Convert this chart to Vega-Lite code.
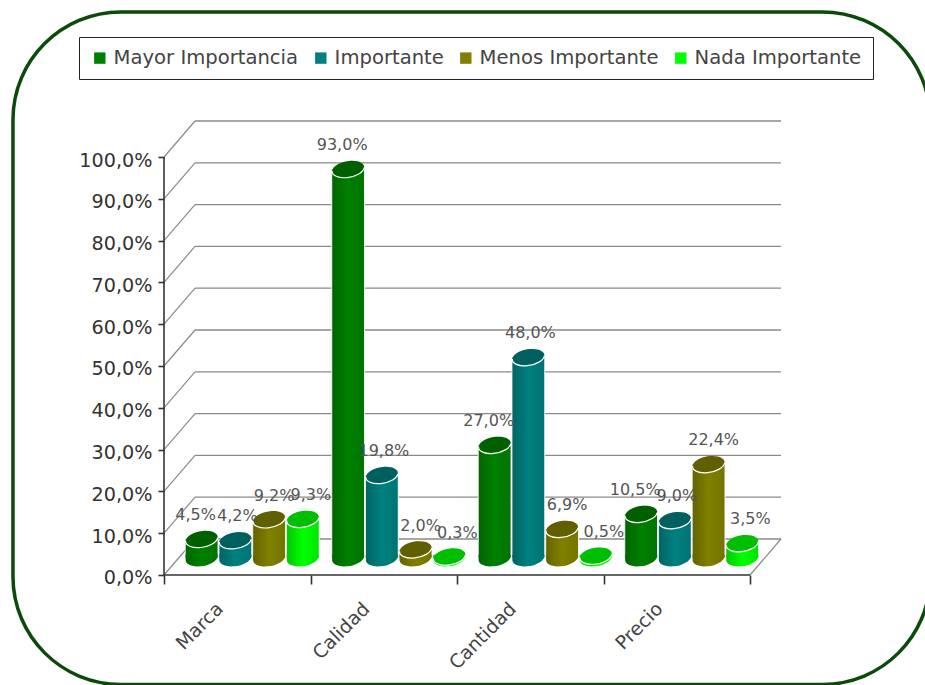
{
  "$schema": "https://vega.github.io/schema/vega-lite/v6.json",
  "width": 925,
  "height": 685,
  "padding": 0,
  "autosize": {"type": "none"},
  "background": "white",
  "config": {"view": {"stroke": null}, "font": "DejaVu Sans"},
  "datasets": {
    "importance": [
      {"criterio": "Marca", "nivel": "Mayor Importancia", "valor": 4.5},
      {"criterio": "Marca", "nivel": "Importante", "valor": 4.2},
      {"criterio": "Marca", "nivel": "Menos Importante", "valor": 9.2},
      {"criterio": "Marca", "nivel": "Nada Importante", "valor": 9.3},
      {"criterio": "Calidad", "nivel": "Mayor Importancia", "valor": 93.0},
      {"criterio": "Calidad", "nivel": "Importante", "valor": 19.8},
      {"criterio": "Calidad", "nivel": "Menos Importante", "valor": 2.0},
      {"criterio": "Calidad", "nivel": "Nada Importante", "valor": 0.3},
      {"criterio": "Cantidad", "nivel": "Mayor Importancia", "valor": 27.0},
      {"criterio": "Cantidad", "nivel": "Importante", "valor": 48.0},
      {"criterio": "Cantidad", "nivel": "Menos Importante", "valor": 6.9},
      {"criterio": "Cantidad", "nivel": "Nada Importante", "valor": 0.5},
      {"criterio": "Precio", "nivel": "Mayor Importancia", "valor": 10.5},
      {"criterio": "Precio", "nivel": "Importante", "valor": 9.0},
      {"criterio": "Precio", "nivel": "Menos Importante", "valor": 22.4},
      {"criterio": "Precio", "nivel": "Nada Importante", "valor": 3.5}
    ],
    "levels": [
      {"level": 0}, {"level": 10}, {"level": 20}, {"level": 30}, {"level": 40}, {"level": 50},
      {"level": 60}, {"level": 70}, {"level": 80}, {"level": 90}, {"level": 100}
    ]
  },
  "resolve": {"scale": {"x": "independent"}},
  "layer": [
    {
      "layer": [
        {
          "description": "Rounded outer frame, running past the right edge",
          "data": {"values": [{"frame": 1}]},
          "mark": {"type": "rect", "filled": false, "stroke": "#0c4a0c", "strokeWidth": 3.5, "cornerRadius": 108},
          "encoding": {
            "x": {"datum": -1.031, "type": "quantitative", "axis": null, "scale": {"domain": [-1.1195, 5.1945], "nice": false, "zero": false}},
            "x2": {"datum": 5.23},
            "y": {
              "datum": 134.7, "type": "quantitative", "title": null,
              "scale": {"domain": [-26.316, 137.56], "nice": false, "zero": false},
              "axis": {
                "orient": "left", "offset": -164, "values": [0, 10, 20, 30, 40, 50, 60, 70, 80, 90, 100],
                "grid": false, "domain": false, "tickSize": 6, "tickColor": "#333333", "tickWidth": 1.6,
                "labelFontSize": 19.2, "labelColor": "#333333", "labelPadding": 6, "labelOffset": 3, "title": null,
                "labelExpr": "replace(format(datum.value, '.1f'), '.', ',') + '%'"
              }
            },
            "y2": {"datum": -26.2}
          }
        },
        {
          "description": "Back wall grid",
          "data": {"name": "levels"},
          "mark": {"type": "rule", "stroke": "#8a8a8a", "strokeWidth": 1.3, "xOffset": 31, "x2Offset": 31, "yOffset": -36},
          "encoding": {
            "x": {"datum": 0, "type": "quantitative"},
            "x2": {"datum": 4},
            "y": {"field": "level", "type": "quantitative"}
          }
        },
        {
          "description": "Side wall grid",
          "data": {"name": "levels"},
          "mark": {"type": "rule", "stroke": "#8a8a8a", "strokeWidth": 1.2, "x2Offset": 31, "y2Offset": -36},
          "encoding": {
            "x": {"datum": 0, "type": "quantitative"},
            "x2": {"datum": 0},
            "y": {"field": "level", "type": "quantitative"},
            "y2": {"field": "level"}
          }
        },
        {
          "description": "Right floor edge",
          "data": {"values": [{"level": 0}]},
          "mark": {"type": "rule", "stroke": "#8a8a8a", "strokeWidth": 1.2, "x2Offset": 31, "y2Offset": -36},
          "encoding": {
            "x": {"datum": 4, "type": "quantitative"},
            "x2": {"datum": 4},
            "y": {"field": "level", "type": "quantitative"},
            "y2": {"field": "level"}
          }
        },
        {
          "description": "Front baseline",
          "data": {"values": [{"level": 0}]},
          "mark": {"type": "rule", "stroke": "#333333", "strokeWidth": 1.6},
          "encoding": {
            "x": {"datum": 0, "type": "quantitative"},
            "x2": {"datum": 4},
            "y": {"field": "level", "type": "quantitative"}
          }
        },
        {
          "description": "Value axis line",
          "data": {"values": [{"level": 0}]},
          "mark": {"type": "rule", "stroke": "#333333", "strokeWidth": 1.6},
          "encoding": {
            "x": {"datum": 0, "type": "quantitative"},
            "y": {"datum": 0, "type": "quantitative"},
            "y2": {"datum": 100}
          }
        }
      ]
    },
    {
      "data": {"name": "importance"},
      "encoding": {
        "x": {
          "field": "criterio", "type": "nominal", "sort": ["Marca", "Calidad", "Cantidad", "Precio"],
          "title": null,
          "scale": {"range": [179, 765], "paddingInner": 0, "paddingOuter": 0},
          "axis": {
            "orient": "bottom", "offset": -95, "translate": -14.5, "tickBand": "extent", "labelAngle": -45, "domain": false,
            "tickSize": 9, "tickColor": "#333333", "tickWidth": 1.6, "labelFontSize": 19, "labelColor": "#444444",
            "labelPadding": 15, "labelOffset": -24, "labelFont": "DejaVu Sans"
          }
        },
        "xOffset": {
          "field": "nivel", "type": "nominal",
          "sort": ["Mayor Importancia", "Importante", "Menos Importante", "Nada Importante"],
          "scale": {"paddingInner": 0.03, "paddingOuter": 0.187}
        },
        "y": {"field": "valor", "type": "quantitative", "title": null},
        "color": {
          "field": "nivel", "type": "nominal", "title": null,
          "sort": ["Mayor Importancia", "Importante", "Menos Importante", "Nada Importante"],
          "scale": {
            "domain": ["Mayor Importancia", "Importante", "Menos Importante", "Nada Importante"],
            "range": ["#008000", "#008080", "#808000", "#00ff00"]
          },
          "legend": {
            "orient": "none", "legendX": 79, "legendY": 37, "direction": "horizontal", "columns": 4,
            "symbolType": "square", "symbolSize": 130, "symbolStrokeWidth": 0, "symbolOpacity": 1,
            "labelFontSize": 19.6, "labelColor": "#444444", "labelFont": "DejaVu Sans", "labelOffset": 4,
            "columnPadding": 12, "padding": 11, "strokeColor": "#222222", "fillColor": "white",
            "labelLimit": 260
          }
        }
      },
      "layer": [
        {
          "description": "Cylinder body",
          "mark": {"type": "bar", "yOffset": -17, "y2Offset": -17, "stroke": "white", "strokeWidth": 1},
          "encoding": {"y2": {"datum": 0}}
        },
        {
          "description": "Cylinder shading",
          "mark": {"type": "bar", "yOffset": -17, "y2Offset": -17},
          "encoding": {"y2": {"datum": 0}, "color": {"value": null}, "fill": {
            "value": {
              "x1": 0, "x2": 1, "y1": 0, "y2": 0, "gradient": "linear",
              "stops": [
                {"offset": 0, "color": "rgba(0,0,0,0.22)"},
                {"offset": 0.5, "color": "rgba(0,0,0,0)"},
                {"offset": 1, "color": "rgba(0,0,0,0.1)"}
              ]
            }
          }}
        },
        {
          "description": "Rounded lower edge of the cylinder",
          "mark": {
            "type": "point", "filled": true, "opacity": 1, "size": 1024, "yOffset": -17,
            "shape": "M-1,-0.2L1,-0.2L1,-0.1A1,0.5,-10,0,1,-1,0.1Z"
          },
          "encoding": {"y": {"datum": 0, "type": "quantitative"}}
        },
        {
          "description": "Shading on the lower edge",
          "mark": {
            "type": "point", "filled": true, "opacity": 1, "size": 1024, "yOffset": -17,
            "shape": "M-1,-0.2L1,-0.2L1,-0.1A1,0.5,-10,0,1,-1,0.1Z"
          },
          "encoding": {"y": {"datum": 0, "type": "quantitative"}, "color": {"value": null}, "fill": {
            "value": {
              "x1": 0, "x2": 1, "y1": 0, "y2": 0, "gradient": "linear",
              "stops": [
                {"offset": 0, "color": "rgba(0,0,0,0.22)"},
                {"offset": 0.5, "color": "rgba(0,0,0,0)"},
                {"offset": 1, "color": "rgba(0,0,0,0.1)"}
              ]
            }
          }}
        },
        {
          "description": "Cylinder top",
          "mark": {
            "type": "point", "filled": true, "opacity": 1, "size": 1024, "yOffset": -17,
            "shape": "M-1,0.1A1,0.5,-10,1,1,1,-0.1A1,0.5,-10,1,1,-1,0.1Z"
          }
        },
        {
          "description": "Darker cap tone",
          "mark": {
            "type": "point", "filled": true, "opacity": 0.25, "size": 1024, "yOffset": -17,
            "shape": "M-1,0.1A1,0.5,-10,1,1,1,-0.1A1,0.5,-10,1,1,-1,0.1Z"
          },
          "encoding": {"color": {"value": "black"}}
        },
        {
          "description": "White rim on the cap front",
          "mark": {
            "type": "point", "filled": false, "opacity": 1, "size": 1024, "yOffset": -17, "strokeWidth": 1.2,
            "shape": "M-1,0.1A1,0.5,-10,0,0,1,-0.1"
          },
          "encoding": {"color": {"value": "white"}}
        },
        {
          "description": "Value labels, first series",
          "transform": [
            {"filter": "datum.nivel === 'Mayor Importancia'"},
            {"calculate": "replace(format(datum.valor, '.1f'), '.', ',') + '%'", "as": "etiqueta"}
          ],
          "mark": {"type": "text", "fontSize": 16, "dx": -6, "yOffset": -41},
          "encoding": {"text": {"field": "etiqueta"}, "color": {"value": "#555555"}}
        },
        {
          "description": "Value labels, second series",
          "transform": [
            {"filter": "datum.nivel === 'Importante'"},
            {"calculate": "replace(format(datum.valor, '.1f'), '.', ',') + '%'", "as": "etiqueta"}
          ],
          "mark": {"type": "text", "fontSize": 16, "dx": 2, "yOffset": -41},
          "encoding": {"text": {"field": "etiqueta"}, "color": {"value": "#555555"}}
        },
        {
          "description": "Value labels, third series",
          "transform": [
            {"filter": "datum.nivel === 'Menos Importante'"},
            {"calculate": "replace(format(datum.valor, '.1f'), '.', ',') + '%'", "as": "etiqueta"}
          ],
          "mark": {"type": "text", "fontSize": 16, "dx": 5, "yOffset": -41},
          "encoding": {"text": {"field": "etiqueta"}, "color": {"value": "#555555"}}
        },
        {
          "description": "Value labels, fourth series",
          "transform": [
            {"filter": "datum.nivel === 'Nada Importante'"},
            {"calculate": "replace(format(datum.valor, '.1f'), '.', ',') + '%'", "as": "etiqueta"}
          ],
          "mark": {"type": "text", "fontSize": 16, "dx": 8, "yOffset": -41},
          "encoding": {"text": {"field": "etiqueta"}, "color": {"value": "#555555"}}
        }
      ]
    }
  ]
}
